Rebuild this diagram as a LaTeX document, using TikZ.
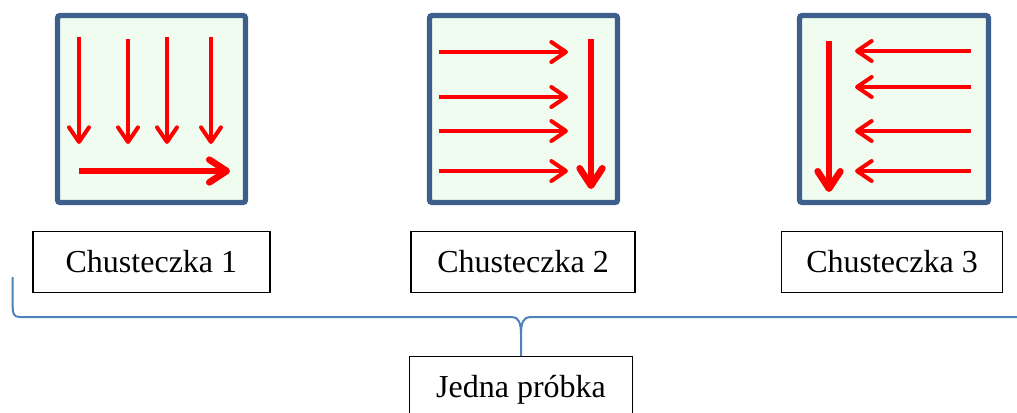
\documentclass[tikz,border=0pt]{standalone}
\usepackage{fontspec}
\setmainfont{Liberation Serif}
\usepackage{tikz}
\usetikzlibrary{arrows.meta}

\definecolor{FrameBlue}{HTML}{3E5F8C}
\definecolor{PaleMint}{HTML}{F0FCF0}
\definecolor{BraceBlue}{HTML}{4F81BD}

\begin{document}
\begin{tikzpicture}[x=0.75pt, y=-0.75pt,
      every node/.append style={font=\fontsize{24}{28}\selectfont},
      labelbox/.style={draw=black, line width=1pt, fill=white, inner sep=0pt,
        minimum height=45.75pt, text height=15pt, text depth=0pt},
      cloth/.style={draw=FrameBlue, fill=PaleMint, line width=4pt, rounded corners=2pt},
      thinmove/.style={red, line width=3pt, -{Straight Barb[length=11pt,width=15pt,round]}},
      thickmove/.style={red, line width=5pt, -{Straight Barb[length=13pt,width=17pt,round]}}]
      \useasboundingbox (0,0) rectangle (1017,412);

      % the three cloths and the way each one is wiped
      \draw[cloth] (57.5,15.5) rectangle (245.5,202.5);
      \foreach \x/\t in {79/37, 128/39, 167/37, 211/37}
        \draw[thinmove] (\x,\t) -- (\x,144);
      \draw[thickmove] (79,171) -- (230,171);

      \draw[cloth] (429.5,15.5) rectangle (617.5,202.5);
      \foreach \y in {52,97,131,171}
        \draw[thinmove] (439,\y) -- (568,\y);
      \draw[thickmove] (591,39) -- (591,189);

      \draw[cloth] (799.5,15.5) rectangle (988.5,202.5);
      \draw[thickmove] (829,41) -- (829,192);
      \foreach \y in {51,87,131,171}
        \draw[thinmove] (971,\y) -- (855,\y);

      % labels
      \node[labelbox, minimum width=177.75pt] (cloth1) at (151.4,262.2) {Chusteczka 1};
      \node[labelbox, minimum width=168pt] (cloth2) at (523,262.2) {Chusteczka 2};
      \node[labelbox, minimum width=165.5pt] (cloth3) at (892,262.2) {Chusteczka 3};
      \node[labelbox, minimum width=167.5pt, anchor=north] (sample) at (521,356) {Jedna próbka};

      % brace over all three
      \coordinate (tip) at (521,334);
      \draw[BraceBlue, line width=1.5pt] (12.7,277) -- (12.7,307)
        .. controls (12.7,314) and (14,317) .. (20,317) -- (512,317)
        .. controls (518,317) and (521,322) .. (tip) -- (sample.north);
      \draw[BraceBlue, line width=1.5pt] (1022,317) -- (530,317)
        .. controls (524,317) and (521,322) .. (tip);
\end{tikzpicture}
\end{document}
